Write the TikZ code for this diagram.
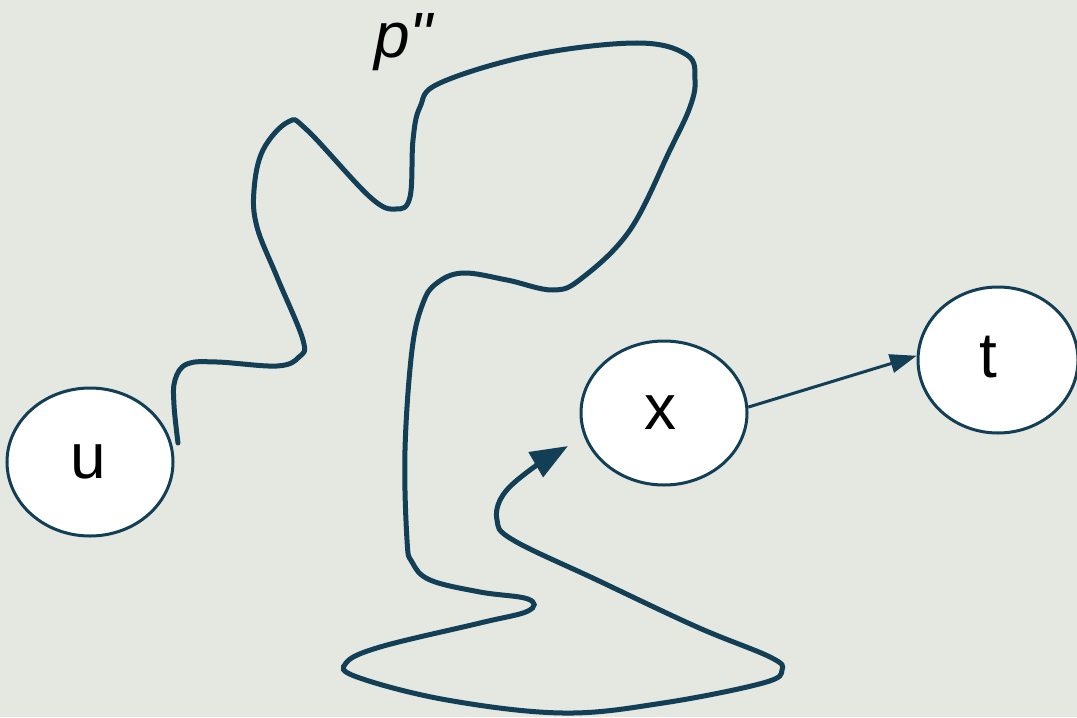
\documentclass[tikz,border=0pt]{standalone}
\usepackage{fontspec}
\setmainfont{Liberation Sans}
\newfontfamily\plainsans{Liberation Sans}
\usetikzlibrary{shapes.geometric,arrows.meta}
\definecolor{bgc}{HTML}{E5E8E1}
\definecolor{teal}{HTML}{123F55}
\tikzset{
  vert/.style={ellipse, draw=teal, line width=2.25pt, fill=white, inner sep=0pt,
    font=\fontsize{48}{56}\selectfont},
  walk/.style={draw=teal, line width=3.75pt, line cap=round,
    -{Triangle[length=28pt,width=21pt]}},
  edgeline/.style={draw=teal, line width=2.25pt, -{Triangle[length=20pt,width=14pt]}},
}
\begin{document}
\begin{tikzpicture}[x=0.75pt,y=-0.75pt]
\useasboundingbox[fill=bgc] (0,0) rectangle (1077,717);
\node[vert, minimum width=124.5pt, minimum height=111pt] (u) at (90,462) {\raisebox{-2pt}{u}\kern3pt};
\node[vert, minimum width=124.5pt, minimum height=108pt] (x) at (664,413) {x\kern6pt};
\node[vert, minimum width=120pt, minimum height=109.5pt] (t) at (998,360) {\raisebox{5pt}{t}\kern14pt};
\node[anchor=base west, inner sep=0pt, font=\fontsize{48}{56}\selectfont\plainsans\itshape] (lbl) at (374,58) {p"};
\draw[edgeline] (x.4) -- (t.177);
\draw[walk] plot[smooth, tension=0.62] coordinates {
 (178,443) (174,405) (175,380) (187,364) (217,362) (277,366) (299,357) (303,340)
 (277,277) (257,227) (254,190) (263,150) (288,122) (307,130) (370,197) (396,209)
 (410,197) (413,140) (420,107) (440,83) (533,55) (637,43) (687,55) (695,80)
 (690,107) (670,150) (630,230) (582,278) (553,290) (507,280) (463,273) (437,283)
 (423,303) (412,350) (405,450) (407,540) (412,562) (430,580) (480,592) (528,599)
 (528,611) (480,623) (380,647) (346,663) (357,677) (447,700) (563,713) (663,703)
 (763,683) (782,670) (770,657) (697,627) (597,580) (513,540) (497,520) (503,495)
 (530,470) (568,446)};
\end{tikzpicture}
\end{document}
